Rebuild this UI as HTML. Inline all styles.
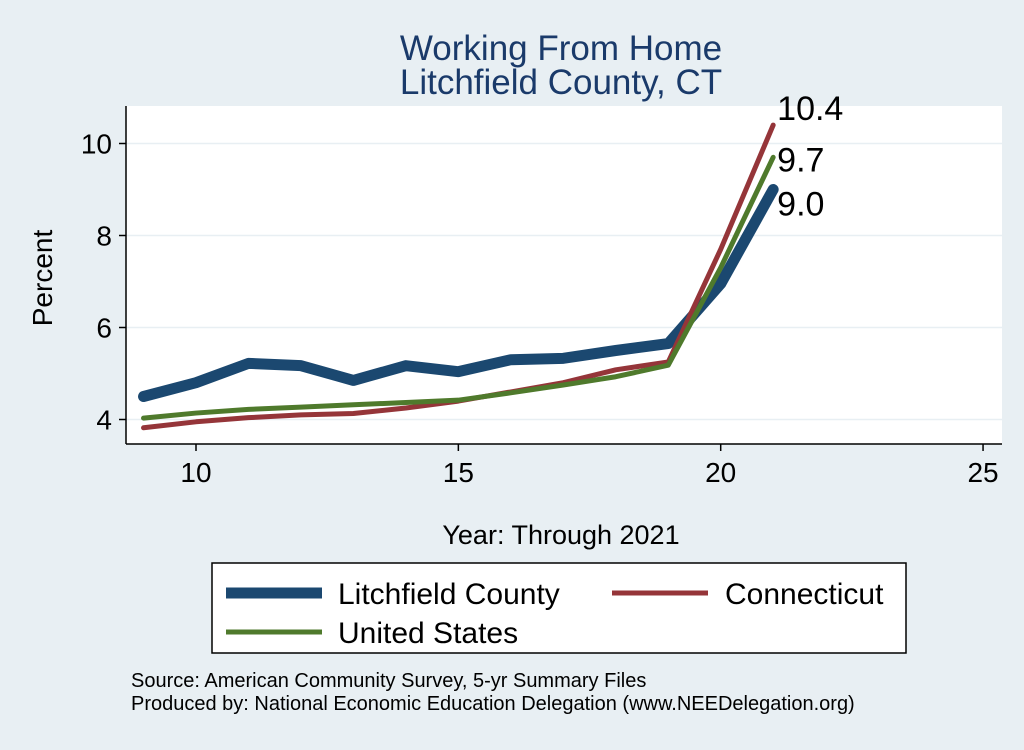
<!DOCTYPE html>
<html><head><style>
body{margin:0;background:#e8eff3;font-family:"Liberation Sans",sans-serif;}
svg text{font-family:"Liberation Sans",sans-serif;}
</style></head><body>
<svg width="1024" height="745" xmlns="http://www.w3.org/2000/svg">
<rect x="0" y="0" width="1024" height="745" fill="#e8eff3"/>
<rect x="126" y="106" width="876" height="338" fill="#fff"/>
<g id="grid"></g><g id="axes"></g><g id="series"></g>
<text x="561" y="60" font-size="35" fill="#1a3a6a" text-anchor="middle">Working From Home</text>
<text x="561" y="94" font-size="35" fill="#1a3a6a" text-anchor="middle">Litchfield County, CT</text>
<text x="52" y="278" font-size="28" text-anchor="middle" transform="rotate(-90 52 278)">Percent</text>
<text x="561" y="544" font-size="27" text-anchor="middle">Year: Through 2021</text>
<g>
<rect x="212" y="563" width="694" height="90" fill="#fff" stroke="#000" stroke-width="1.5"/>
<line x1="226" y1="593" x2="322" y2="593" stroke="#1b4870" stroke-width="11"/>
<text x="338" y="604" font-size="30">Litchfield County</text>
<line x1="612" y1="593" x2="708" y2="593" stroke="#953539" stroke-width="5"/>
<text x="725" y="604" font-size="30">Connecticut</text>
<line x1="226" y1="632" x2="322" y2="632" stroke="#4f7a2c" stroke-width="5"/>
<text x="338" y="643" font-size="30">United States</text>
</g>
<text x="131" y="687" font-size="20">Source: American Community Survey, 5-yr Summary Files</text>
<text x="131" y="710" font-size="20">Produced by: National Economic Education Delegation (www.NEEDelegation.org)</text>
</svg>
<script>
const years=[9,10,11,12,13,14,15,16,17,18,19,20,21];
const litchfield=[4.5,4.8,5.22,5.17,4.85,5.17,5.04,5.3,5.33,5.5,5.65,6.95,9.0];
const connecticut=[3.82,3.95,4.04,4.1,4.13,4.25,4.4,4.6,4.8,5.08,5.25,7.7,10.4];
const unitedStates=[4.03,4.14,4.22,4.27,4.32,4.37,4.42,4.58,4.75,4.93,5.18,7.3,9.7];
const xTicks=[10,15,20,25];
const yTicks=[4,6,8,10];
const NS="http://www.w3.org/2000/svg";
const xS=v=>196+(v-10)*52.47;
const yS=v=>419.5-(v-4)*46;
function mk(p,t,a){const e=document.createElementNS(NS,t);for(const k in a)e.setAttribute(k,a[k]);p.appendChild(e);return e;}
const grid=document.getElementById('grid'),axes=document.getElementById('axes'),ser=document.getElementById('series');
yTicks.forEach(v=>{
 const g=mk(grid,'line',{x1:126,x2:1002,y1:yS(v),y2:yS(v),stroke:'#e8eff3','stroke-width':1.5});
 
 
 const t=mk(axes,'line',{x1:119,x2:126,y1:yS(v),y2:yS(v),stroke:'#000','stroke-width':1.5});
 
 
 const l=mk(axes,'text',{x:112,y:yS(v)+10,'font-size':28,'text-anchor':'end'});l.textContent=v;
 
 
});
xTicks.forEach(v=>{
 const t=mk(axes,'line',{x1:xS(v),x2:xS(v),y1:444,y2:451,stroke:'#000','stroke-width':1.5});
 
 
 const l=mk(axes,'text',{x:xS(v),y:482,'font-size':28,'text-anchor':'middle'});l.textContent=v;
 
 
});
const ya=mk(axes,'line',{x1:126,x2:126,y1:106,y2:444,stroke:'#000','stroke-width':1.5});


const xa=mk(axes,'line',{x1:126,x2:1002,y1:444,y2:444,stroke:'#000','stroke-width':1.5});


function line(vals,color,w,name,dy){
 const p=mk(ser,'polyline',{points:vals.map((v,i)=>xS(years[i])+','+yS(v)).join(' '),fill:'none',stroke:color,'stroke-width':w,'stroke-linejoin':'round','stroke-linecap':'round'});
 
 
 const last=vals[vals.length-1];
 const t=mk(ser,'text',{x:xS(years[years.length-1])+4,y:yS(last)+dy,'font-size':34});t.textContent=last.toFixed(1);
 
 
}
line(litchfield,'#1b4870',11,'series-litchfield',26);
line(connecticut,'#953539',5,'series-connecticut',-5);
line(unitedStates,'#4f7a2c',5,'series-us',14);
</script>
</body></html>
